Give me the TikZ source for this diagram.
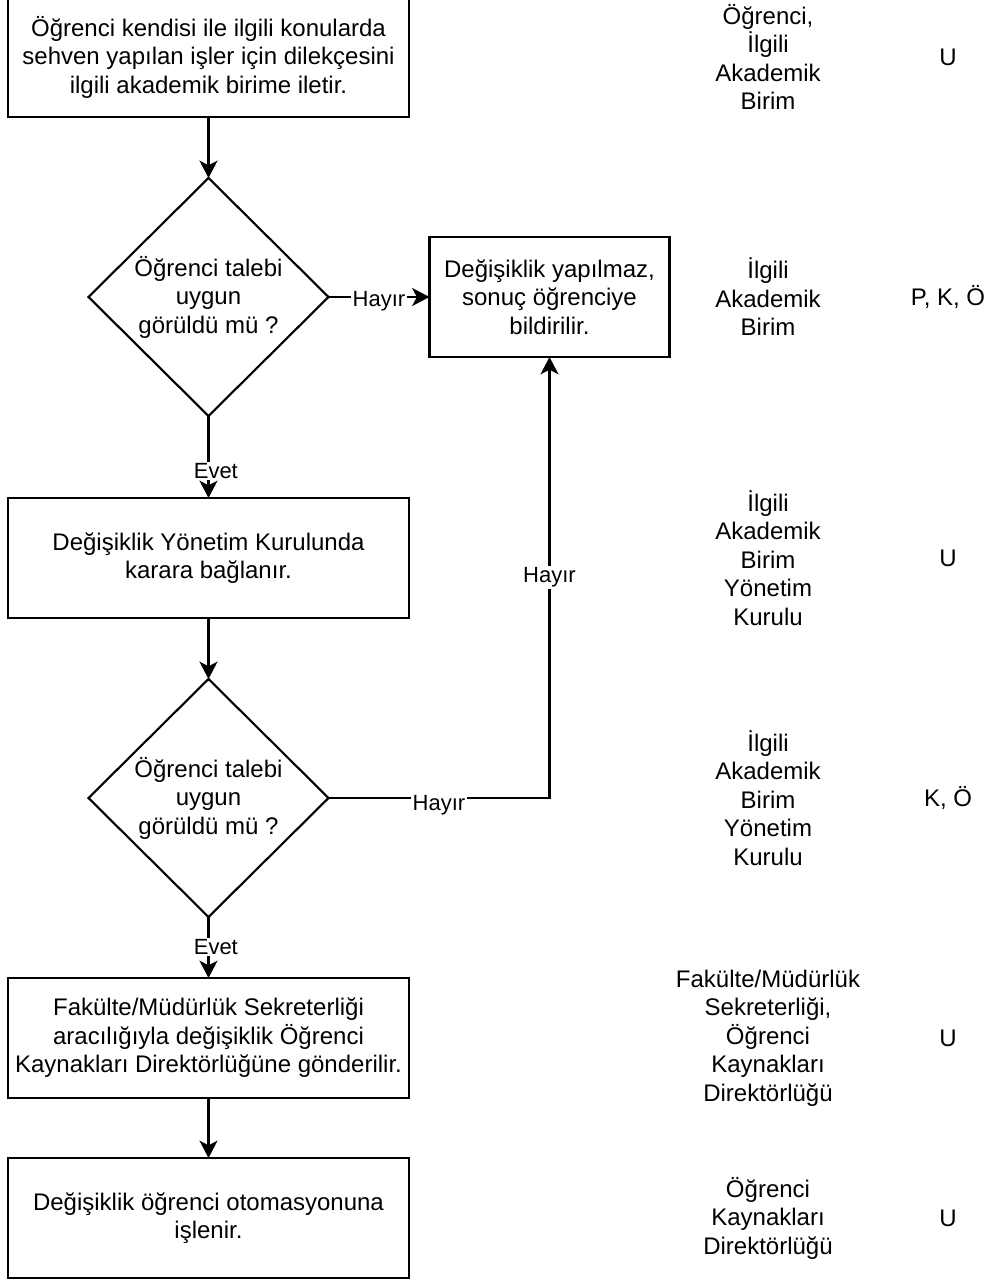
\documentclass[tikz,border=0pt]{standalone}
\usepackage{fontspec}
\setmainfont{Liberation Sans}
\usetikzlibrary{positioning,shapes.geometric,arrows.meta}

\begin{document}
\begin{tikzpicture}[x=0.75pt,y=0.75pt,
        font=\fontsize{18}{21.4}\selectfont,
        line width=1.6pt,
        box/.style={draw,rectangle,minimum width=300.75pt,minimum height=90pt,inner sep=0pt,outer sep=0pt,align=center},
        smallbox/.style={box,minimum width=180pt},
        decision/.style={draw,diamond,minimum width=180pt,minimum height=178.5pt,inner sep=0pt,outer sep=0pt,align=center},
        role/.style={align=center},
        lbl/.style={fill=white,inner sep=1pt,font=\fontsize{16.5}{19}\selectfont},
        flow/.style={-{Stealth[length=13pt,width=13.5pt,inset=3.5pt]}}]
                \useasboundingbox (0,0) rectangle (985,-1280);
                \coordinate (colA) at (768,0);
                \coordinate (colB) at (948,0);

                \node [box] (b1) at (208.5,-57) {Öğrenci kendisi ile ilgili konularda\\sehven yapılan işler için dilekçesini\\ilgili akademik birime iletir.};
                \node [decision, below=45.75pt of b1] (d1) {Öğrenci talebi\\uygun\\görüldü mü ?};
                \node [smallbox, right=75.75pt of d1] (b2) {Değişiklik yapılmaz,\\sonuç öğrenciye\\bildirilir.};
                \node [box, below=61.5pt of d1] (b3) {Değişiklik Yönetim Kurulunda\\karara bağlanır.};
                \node [decision, below=45.75pt of b3] (d2) {Öğrenci talebi\\uygun\\görüldü mü ?};
                \node [box, below=45.75pt of d2] (b4) {Fakülte/Müdürlük Sekreterliği\\aracılığıyla değişiklik Öğrenci\\Kaynakları Direktörlüğüne gönderilir.};
                \node [box, below=45pt of b4] (b5) {Değişiklik öğrenci otomasyonuna\\işlenir.};

                \node [role] (r1) at (b1 -| colA) {Öğrenci,\\İlgili\\Akademik\\Birim};
                \node [role] (r2) at (d1 -| colA) {İlgili\\Akademik\\Birim};
                \node [role] (r3) at (b3 -| colA) {İlgili\\Akademik\\Birim\\Yönetim\\Kurulu};
                \node [role] (r4) at (d2 -| colA) {İlgili\\Akademik\\Birim\\Yönetim\\Kurulu};
                \node [role] (r5) at (b4 -| colA) {Fakülte/Müdürlük\\Sekreterliği,\\Öğrenci\\Kaynakları\\Direktörlüğü};
                \node [role] (r6) at (b5 -| colA) {Öğrenci\\Kaynakları\\Direktörlüğü};

                \node (k1) at (b1 -| colB) {U};
                \node (k2) at (d1 -| colB) {P, K, Ö};
                \node (k3) at (b3 -| colB) {U};
                \node (k4) at (d2 -| colB) {K, Ö};
                \node (k5) at (b4 -| colB) {U};
                \node (k6) at (b5 -| colB) {U};

                \draw [flow] (b1) -- (d1);
                \draw [flow] (d1) -- node [lbl, yshift=-3.5pt] {Hayır} (b2);
                \draw [flow] (d1) -- node [lbl, pos=0.67, xshift=5.5pt] {Evet} (b3);
                \draw [flow] (b3) -- (d2);
                \draw [flow] (d2) -| node [lbl, pos=0.25, yshift=-5.4pt] {Hayır} node [lbl, pos=0.75] {Hayır} (b2);
                \draw [flow] (d2) -- node [lbl, pos=0.49, xshift=5.5pt] {Evet} (b4);
                \draw [flow] (b4) -- (b5);
            \end{tikzpicture}
\end{document}
